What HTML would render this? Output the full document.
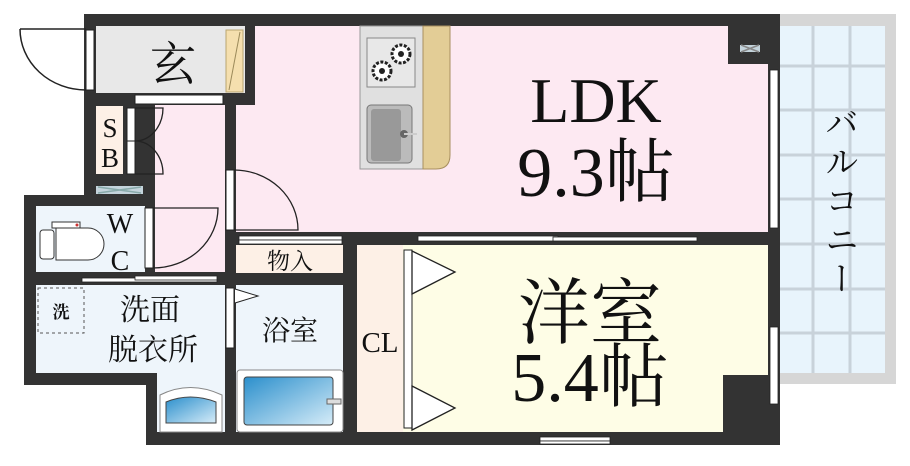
<!DOCTYPE html>
<html><head><meta charset="utf-8"><style>
html,body{margin:0;padding:0;background:#fff;}
svg{display:block;}
text{font-family:"Liberation Serif","Noto Serif CJK SC",serif;fill:#111;}
</style></head><body>
<svg width="910" height="466" viewBox="0 0 910 466" xmlns="http://www.w3.org/2000/svg">
<defs>
<linearGradient id="bl" x1="0" y1="0" x2="1" y2="1"><stop offset="0" stop-color="#2b8fcc"/><stop offset="1" stop-color="#d6ecf8"/></linearGradient>
</defs>
<rect x="776" y="14" width="120" height="370" fill="#d6d6d6"/>
<rect x="780" y="26" width="105" height="347" fill="#e8f4fc"/>
<g stroke="#c8d2da" stroke-width="3">
<line x1="813" y1="26" x2="813" y2="373"/><line x1="850" y1="26" x2="850" y2="373"/>
<line x1="780" y1="66" x2="885" y2="66"/><line x1="780" y1="110" x2="885" y2="110"/><line x1="780" y1="155" x2="885" y2="155"/><line x1="780" y1="199" x2="885" y2="199"/><line x1="780" y1="244" x2="885" y2="244"/><line x1="780" y1="289" x2="885" y2="289"/><line x1="780" y1="333" x2="885" y2="333"/>
</g>
<rect x="84" y="14" width="696" height="431" fill="#333"/>
<rect x="24" y="195" width="140" height="190" fill="#333"/>
<rect x="84" y="385" width="62" height="60" fill="#fff"/>
<rect x="96" y="26" width="149" height="67" fill="#e8e8e8"/>
<rect x="226" y="30" width="17" height="62" fill="#f5dfae" stroke="#b9a56f"/>
<line x1="240" y1="32" x2="229" y2="90" stroke="#9c8a5a"/>
<rect x="255" y="26" width="473" height="206" fill="#fde9f2"/>
<rect x="728" y="64" width="40" height="168" fill="#fde9f2"/>
<rect x="236" y="105" width="30" height="127" fill="#fde9f2"/>
<rect x="155" y="105" width="70" height="167" fill="#fde9f2"/>
<rect x="96" y="106" width="27" height="68" fill="#fdf0e6"/>
<rect x="36" y="206" width="109" height="66" fill="#eef5fb"/>
<rect x="36" y="285" width="189" height="88" fill="#eef5fb"/>
<rect x="157" y="373" width="68" height="59" fill="#eef5fb"/>
<rect x="236" y="285" width="107" height="147" fill="#eef5fb"/>
<rect x="236" y="245" width="107" height="28" fill="#fdf0e6"/>
<rect x="357" y="245" width="46" height="187" fill="#fdf0e6"/>
<rect x="403" y="245" width="320" height="187" fill="#fefde6"/>
<rect x="403" y="245" width="365" height="130" fill="#fefde6"/>
<rect x="86" y="30" width="8" height="60" fill="#fff" stroke="#222"/>
<path d="M20 29 L86 29 M20 29 A66 61 0 0 0 86 90" fill="none" stroke="#222" stroke-width="1.5"/>
<rect x="135" y="95" width="88" height="9" fill="#fff" stroke="#222"/>
<rect x="127" y="108" width="8" height="66" fill="#fff" stroke="#222"/>
<line x1="127" y1="141" x2="135" y2="141" stroke="#222"/>
<path d="M135 108 L163 108 A28 33 0 0 1 135 141 A28 33 0 0 1 163 174 L135 174" fill="none" stroke="#222" stroke-width="1.3"/>
<rect x="96" y="186" width="47" height="8" fill="#c4d4dc"/>
<path d="M98 187 L141 193 M98 193 L141 187" stroke="#8aa" stroke-width="1.5"/>
<rect x="740" y="45" width="20" height="7" fill="#c4d4dc"/>
<path d="M741 45 L759 52 M741 52 L759 45" stroke="#888" stroke-width="1.5"/>
<rect x="145" y="208" width="8" height="60" fill="#fff" stroke="#222"/>
<path d="M153 208 L218 208 A65 60 0 0 1 153 268" fill="none" stroke="#222" stroke-width="1.3"/>
<rect x="226" y="170" width="8" height="60" fill="#fff" stroke="#222"/>
<path d="M234 170 A64 60 0 0 1 298 230 L234 230" fill="none" stroke="#222" stroke-width="1.3"/>
<g fill="#fff" stroke="#222" stroke-width="0.8">
<rect x="82" y="278" width="135" height="4"/><rect x="135" y="276" width="82" height="4"/>
<rect x="239" y="236" width="103" height="4"/><rect x="239" y="240" width="103" height="4"/>
<rect x="418" y="236" width="140" height="5"/><rect x="553" y="237" width="144" height="4"/>
<rect x="540" y="437" width="70" height="4"/><rect x="540" y="441" width="70" height="3"/>
<rect x="770" y="70" width="8" height="158"/><rect x="770" y="327" width="8" height="77"/>
</g>
<rect x="226" y="288" width="8" height="60" fill="#fff" stroke="#222"/>
<path d="M235 289 L258 296 L235 303" fill="#fff" stroke="#222"/>
<rect x="404" y="250" width="8" height="178" fill="#fff" stroke="#222"/>
<path d="M412 251 L455 272 L412 294 Z" fill="#fff" stroke="#222" stroke-width="1.3"/>
<path d="M412 386 L455 408 L412 430 Z" fill="#fff" stroke="#222" stroke-width="1.3"/>
<rect x="40" y="230" width="14" height="29" rx="3" fill="#fff" stroke="#333"/>
<path d="M56 228 L88 228 A8 8 0 0 1 88 260 L56 260 Z" fill="#fff" stroke="#333"/>
<rect x="52" y="222" width="28" height="6" fill="#fff" stroke="#333"/>
<circle cx="77" cy="225" r="1.5" fill="#c33"/>
<rect x="38" y="288" width="46" height="45" fill="none" stroke="#555" stroke-dasharray="3,3"/>
<path d="M160 432 L160 395 Q190 380 222 395 L222 432 Z" fill="#fff" stroke="#888"/>
<path d="M166 423 L166 402 Q190 392 216 402 L216 423 Z" fill="url(#bl)" stroke="#444"/>
<rect x="237" y="370" width="106" height="62" rx="3" fill="#fff" stroke="#888"/>
<rect x="244" y="377" width="89" height="48" rx="3" fill="url(#bl)" stroke="#444"/>
<rect x="327" y="399" width="14" height="5" fill="#ddd" stroke="#666"/>
<rect x="360" y="26" width="64" height="143" fill="#e0e0e0" stroke="#999"/>
<path d="M423 26 L450 26 L450 155 Q450 169 436 169 L423 169 Z" fill="#e3cd96" stroke="#a89060"/>
<rect x="367" y="38" width="48" height="49" fill="#e8e8e8" stroke="#888"/>
<circle cx="401" cy="54" r="9" fill="#fff" stroke="#222" stroke-width="3" stroke-dasharray="3,1.5"/><circle cx="401" cy="54" r="3" fill="#222"/>
<circle cx="382" cy="71" r="9" fill="#fff" stroke="#222" stroke-width="3" stroke-dasharray="3,1.5"/><circle cx="382" cy="71" r="3" fill="#222"/>
<rect x="367" y="105" width="45" height="58" rx="4" fill="#bbb" stroke="#777"/>
<rect x="371" y="109" width="30" height="52" rx="3" fill="#999"/>
<circle cx="404" cy="134" r="4" fill="#666"/><line x1="404" y1="134" x2="417" y2="134" stroke="#ccc" stroke-width="2"/>
<text x="173" y="80" font-size="46" text-anchor="middle">玄</text>
<text x="110" y="137" font-size="27" text-anchor="middle">S</text>
<text x="110" y="167" font-size="27" text-anchor="middle">B</text>
<text x="120" y="233" font-size="28" text-anchor="middle">W</text>
<text x="120" y="270" font-size="28" text-anchor="middle">C</text>
<text x="61" y="318" font-size="17" text-anchor="middle" font-family="Liberation Sans,Noto Sans CJK JP,sans-serif" font-weight="bold">洗</text>
<text x="150" y="320" font-size="30" text-anchor="middle">洗面</text>
<text x="153" y="360" font-size="30" text-anchor="middle">脱衣所</text>
<text x="290" y="340" font-size="28" text-anchor="middle">浴室</text>
<text x="290" y="269" font-size="23" text-anchor="middle">物入</text>
<text x="380" y="352" font-size="29" text-anchor="middle">CL</text>
<text x="596" y="122" font-size="64" text-anchor="middle">LDK</text>
<text x="596" y="196" font-size="70" text-anchor="middle">9.3帖</text>
<text x="590" y="338" font-size="72" text-anchor="middle">洋室</text>
<text x="590" y="401" font-size="70" text-anchor="middle">5.4帖</text>
<text font-size="34" writing-mode="tb" x="838" y="105" letter-spacing="5">バルコニー</text>
</svg>
</body></html>
